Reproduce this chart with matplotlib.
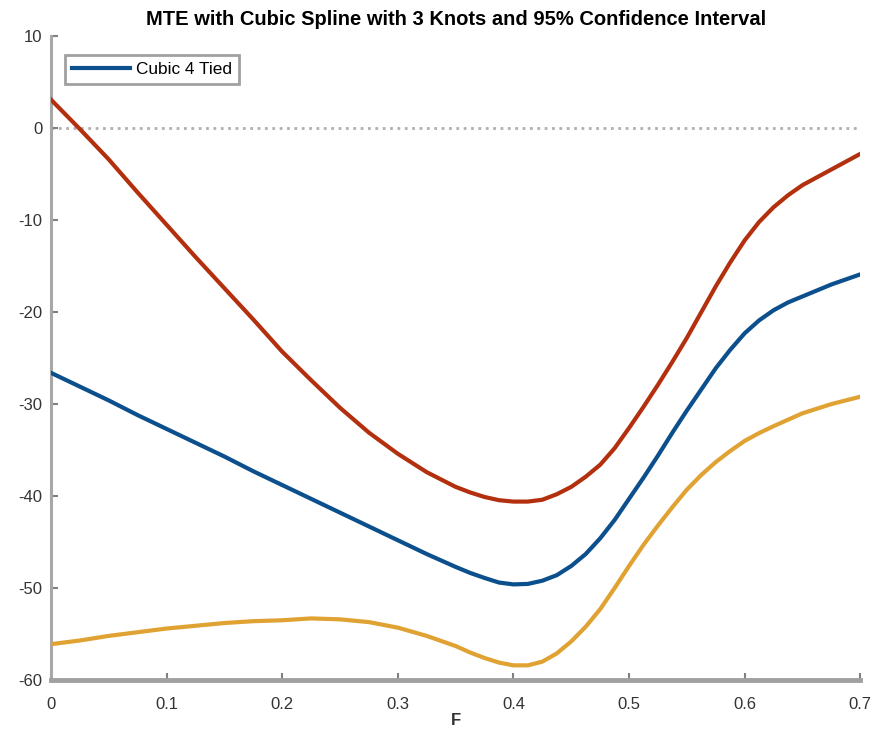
import numpy as np
import matplotlib
matplotlib.use("Agg")
import matplotlib.pyplot as plt

plt.rcParams['font.family'] = ['Liberation Sans', 'DejaVu Sans']
plt.rcParams['axes.unicode_minus'] = False

# propensity score grid (finer around the trough) and MTE curves with 95% CI bounds
p = [0, 0.025, 0.05, 0.075, 0.1, 0.125, 0.15, 0.175, 0.2, 0.225, 0.25, 0.275,
     0.3, 0.325, 0.35, 0.3625, 0.375, 0.3875, 0.4, 0.4125, 0.425, 0.4375,
     0.45, 0.4625, 0.475, 0.4875, 0.5, 0.5125, 0.525, 0.5375, 0.55, 0.5625,
     0.575, 0.5875, 0.6, 0.6125, 0.625, 0.6375, 0.65, 0.675, 0.7]
mte = [-26.6, -28.1, -29.6, -31.2, -32.7, -34.2, -35.7, -37.3, -38.8, -40.3,
       -41.8, -43.3, -44.8, -46.3, -47.7, -48.35, -48.9, -49.4, -49.6, -49.55,
       -49.2, -48.6, -47.6, -46.3, -44.6, -42.6, -40.3, -38.0, -35.6, -33.1,
       -30.7, -28.4, -26.1, -24.1, -22.3, -20.9, -19.8, -18.95, -18.3, -17.0,
       -15.9]
upper = [3.1, -0.1, -3.4, -7.0, -10.5, -14.0, -17.4, -20.8, -24.3, -27.4,
         -30.4, -33.1, -35.4, -37.4, -39.0, -39.6, -40.1, -40.45, -40.6, -40.6,
         -40.4, -39.8, -39.0, -37.9, -36.6, -34.8, -32.6, -30.3, -27.9, -25.4,
         -22.8, -20.0, -17.2, -14.6, -12.2, -10.2, -8.6, -7.3, -6.2, -4.5,
         -2.8]
lower = [-56.1, -55.7, -55.2, -54.8, -54.4, -54.1, -53.8, -53.6, -53.5, -53.3,
         -53.4, -53.7, -54.3, -55.2, -56.3, -57.0, -57.6, -58.1, -58.4, -58.4,
         -58.0, -57.1, -55.8, -54.2, -52.3, -50.0, -47.6, -45.3, -43.2, -41.2,
         -39.3, -37.7, -36.3, -35.1, -34.0, -33.15, -32.4, -31.7, -31.0, -30.0,
         -29.2]

x_ticks = [0, 0.1, 0.2, 0.3, 0.4, 0.5, 0.6, 0.7]
x_labels = ['0', '0.1', '0.2', '0.3', '0.4', '0.5', '0.6', '0.7']
y_ticks = [-60, -50, -40, -30, -20, -10, 0, 10]

fig = plt.figure(figsize=(8.77, 7.36), dpi=100)
ax = fig.add_axes([0.058, 0.076, 0.923, 0.875])

ax.plot(p, mte, color='#0b4f8c', linewidth=3.0, label='Cubic 4 Tied', zorder=3)
ax.plot(p, upper, color='#b3300f', linewidth=3.0, zorder=3)
ax.plot(p, lower, color='#e0a232', linewidth=3.0, zorder=3)
ax.axhline(0, color='#b0b0b0', linewidth=2, linestyle=':', zorder=1)

ax.set_xlim(0, 0.7)
ax.set_ylim(-60, 10)
ax.set_xticks(x_ticks)
ax.set_xticklabels(x_labels)
ax.set_yticks(y_ticks)

for side in ['top', 'right']:
    ax.spines[side].set_visible(False)
ax.spines['left'].set_color('#a8a8a8')
ax.spines['left'].set_linewidth(2.2)
ax.spines['bottom'].set_color('#a0a0a0')
ax.spines['bottom'].set_linewidth(3.5)
ax.tick_params(direction='in', length=5, width=1.5, color='#808080',
               labelsize=12, labelcolor='#333333')
ax.tick_params(axis='x', pad=12)
ax.tick_params(axis='y', pad=6)

ax.set_title('MTE with Cubic Spline with 3 Knots and 95% Confidence Interval',
             fontsize=14.5, fontweight='bold', pad=8)
ax.set_xlabel('F', fontsize=12, fontweight='bold', color='#333333', labelpad=1)

leg = ax.legend(loc='upper left', bbox_to_anchor=(0.0173, 0.97), borderaxespad=0,
                fancybox=False, edgecolor='#a0a0a0', framealpha=1,
                fontsize=12.4, handlelength=3.4, handletextpad=0.35)
leg.get_frame().set_linewidth(2)

fig.savefig('out.png', dpi=100)
